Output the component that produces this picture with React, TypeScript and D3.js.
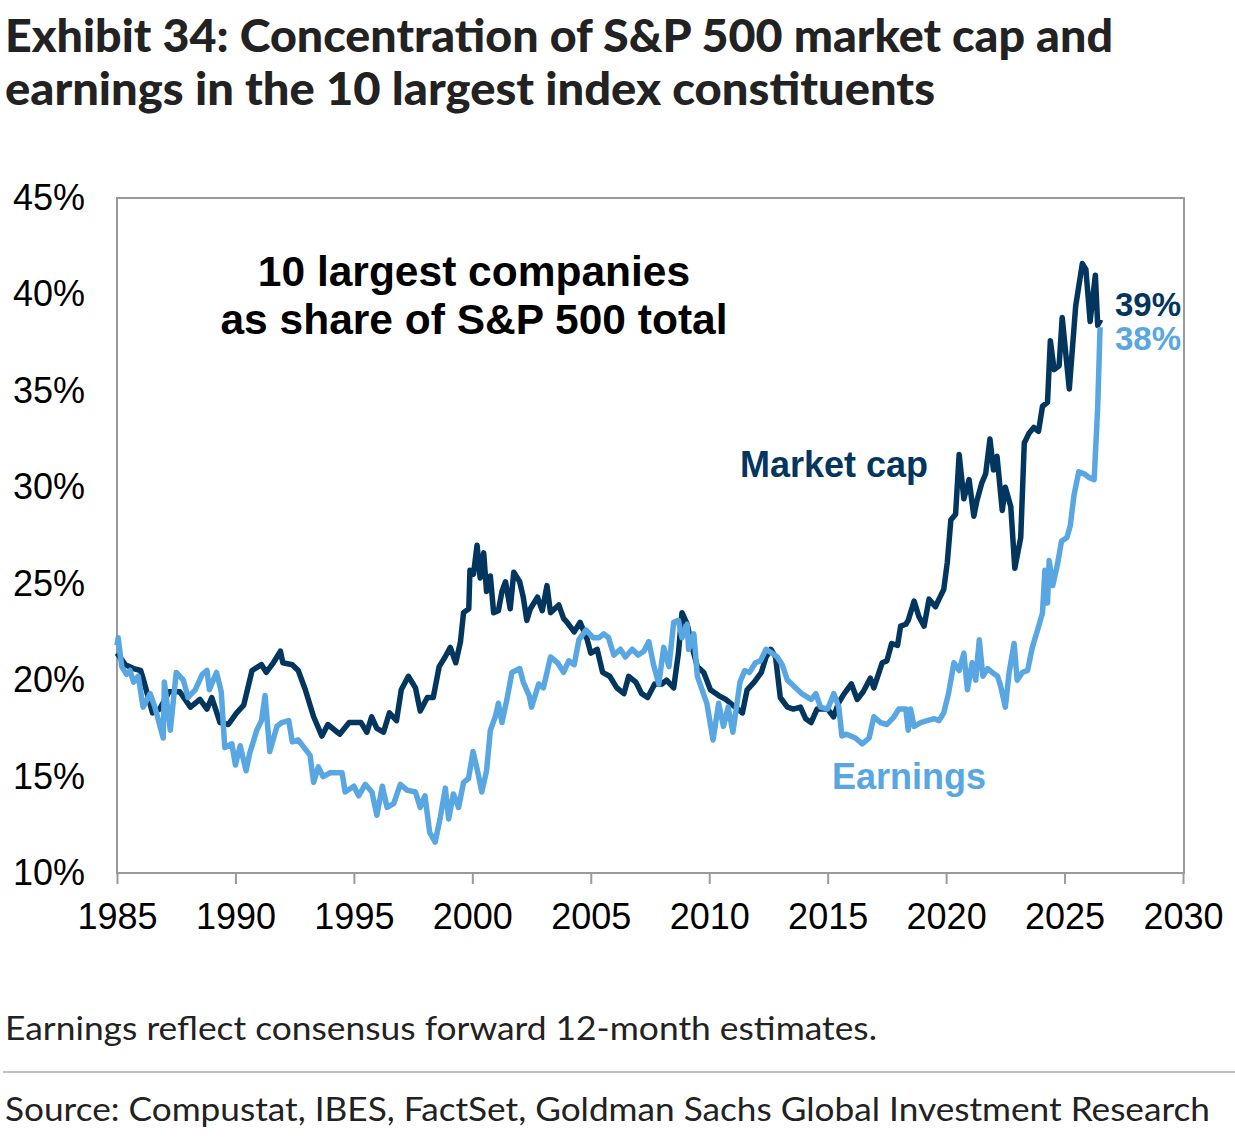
import React, { useEffect, useRef } from "react";
import * as d3 from "d3";

// [year, % of S&P 500]
const marketCap: [number, number][] = [
  [1985.0, 21.4], [1985.35, 20.8], [1985.7, 20.6], [1986.0, 20.5], [1986.1, 20.1],
  [1986.5, 18.3], [1986.8, 18.5], [1987.2, 19.4], [1987.65, 19.4], [1988.1, 18.6],
  [1988.5, 19.0], [1988.8, 18.5], [1989.0, 19.1], [1989.35, 17.8], [1989.7, 17.7],
  [1990.05, 18.3], [1990.35, 18.7], [1990.7, 20.5], [1991.1, 20.8], [1991.3, 20.4],
  [1991.6, 20.9], [1991.9, 21.5], [1992.0, 20.9], [1992.4, 20.8], [1992.65, 20.5],
  [1992.95, 19.5], [1993.3, 18.1], [1993.65, 17.1], [1993.9, 17.7], [1994.4, 17.2],
  [1994.8, 17.8], [1995.3, 17.8], [1995.55, 17.3], [1995.75, 18.1], [1995.97, 17.5],
  [1996.25, 17.3], [1996.5, 18.3], [1996.8, 17.9], [1997.0, 19.5], [1997.3, 20.2],
  [1997.6, 19.6], [1997.8, 18.4], [1998.1, 19.1], [1998.35, 19.1], [1998.6, 20.7],
  [1998.85, 21.2], [1999.07, 21.7], [1999.3, 20.9], [1999.5, 22.0], [1999.63, 23.5],
  [1999.85, 23.7], [1999.9, 25.7], [2000.05, 25.5], [2000.2, 27.0], [2000.33, 25.3],
  [2000.48, 26.6], [2000.6, 24.6], [2000.76, 25.4], [2000.9, 23.5], [2001.1, 23.6],
  [2001.25, 24.6], [2001.4, 25.1], [2001.6, 23.7], [2001.75, 25.6], [2002.0, 25.1],
  [2002.15, 24.3], [2002.3, 23.1], [2002.45, 23.7], [2002.75, 24.3], [2002.95, 23.6],
  [2003.15, 24.9], [2003.3, 23.5], [2003.65, 23.9], [2003.85, 23.2], [2004.0, 23.0],
  [2004.3, 22.5], [2004.55, 23.0], [2004.85, 22.1], [2005.0, 21.4], [2005.27, 21.6],
  [2005.5, 20.4], [2005.8, 20.2], [2006.1, 19.6], [2006.4, 19.3], [2006.6, 20.2],
  [2006.9, 19.9], [2007.15, 19.3], [2007.4, 19.1], [2007.7, 19.8], [2008.0, 19.8],
  [2008.2, 20.0], [2008.5, 19.6], [2008.7, 21.4], [2008.85, 23.5], [2009.07, 22.9],
  [2009.3, 21.6], [2009.5, 20.7], [2009.77, 20.4], [2010.05, 19.5], [2010.4, 19.2],
  [2010.7, 19.0], [2010.9, 18.8], [2011.4, 18.3], [2011.6, 19.5], [2011.9, 19.9],
  [2012.2, 20.4], [2012.4, 21.2], [2012.6, 21.6], [2012.8, 21.2], [2013.0, 19.1],
  [2013.3, 18.6], [2013.55, 18.5], [2013.85, 18.6], [2014.07, 18.0], [2014.3, 17.8],
  [2014.55, 18.5], [2015.0, 18.5], [2015.25, 18.1], [2015.45, 18.8], [2015.7, 19.3],
  [2016.0, 19.8], [2016.25, 19.0], [2016.5, 19.4], [2016.8, 20.1], [2016.95, 19.6],
  [2017.3, 20.9], [2017.5, 21.0], [2017.7, 21.9], [2017.95, 21.8], [2018.08, 22.8],
  [2018.3, 22.9], [2018.4, 23.1], [2018.65, 24.1], [2018.85, 23.3], [2019.07, 22.8],
  [2019.28, 24.2], [2019.55, 23.8], [2019.7, 24.2], [2019.9, 24.7], [2020.05, 26.1],
  [2020.2, 28.3], [2020.4, 28.6], [2020.55, 31.7], [2020.75, 29.4], [2020.97, 30.4],
  [2021.17, 28.5], [2021.3, 29.3], [2021.5, 30.2], [2021.67, 30.7], [2021.85, 32.5],
  [2022.0, 30.9], [2022.15, 31.6], [2022.37, 28.8], [2022.5, 30.0], [2022.73, 29.0],
  [2022.9, 25.8], [2023.15, 27.4], [2023.3, 32.3], [2023.5, 32.8], [2023.7, 33.1],
  [2023.9, 32.9], [2024.07, 34.2], [2024.28, 34.4], [2024.4, 37.6], [2024.56, 36.1],
  [2024.77, 36.3], [2024.9, 38.8], [2025.2, 35.1], [2025.47, 39.4], [2025.75, 41.6],
  [2025.9, 41.3], [2026.08, 38.6], [2026.3, 41.0], [2026.4, 38.4], [2026.53, 38.7],
];

const earnings: [number, number][] = [
  [1985.0, 21.8], [1985.05, 22.2], [1985.2, 20.7], [1985.4, 20.3], [1985.55, 20.5],
  [1985.7, 19.9], [1985.9, 20.2], [1986.1, 18.6], [1986.4, 19.3], [1986.6, 18.6],
  [1986.95, 17.0], [1987.0, 19.9], [1987.25, 17.4], [1987.5, 20.4], [1987.8, 20.0],
  [1988.0, 19.1], [1988.3, 19.5], [1988.6, 20.3], [1988.8, 20.5], [1988.9, 19.5],
  [1989.2, 20.4], [1989.4, 19.4], [1989.55, 16.5], [1989.85, 16.7], [1990.0, 15.6],
  [1990.2, 16.6], [1990.45, 15.3], [1990.6, 16.2], [1990.9, 17.4], [1991.1, 17.9],
  [1991.25, 19.2], [1991.45, 16.3], [1991.75, 17.6], [1991.95, 17.8], [1992.25, 17.9],
  [1992.4, 16.8], [1992.65, 16.9], [1992.9, 16.5], [1993.15, 16.1], [1993.3, 14.7],
  [1993.5, 15.5], [1993.7, 15.0], [1994.0, 15.2], [1994.5, 15.2], [1994.63, 14.2],
  [1995.0, 14.5], [1995.2, 14.0], [1995.48, 14.6], [1995.76, 14.2], [1995.97, 13.0],
  [1996.2, 14.5], [1996.4, 13.4], [1996.68, 13.6], [1996.96, 14.6], [1997.24, 14.3],
  [1997.6, 14.2], [1997.8, 13.4], [1998.0, 14.0], [1998.2, 12.1], [1998.43, 11.6],
  [1998.65, 12.9], [1998.86, 14.4], [1999.0, 12.8], [1999.2, 14.1], [1999.42, 13.4],
  [1999.63, 14.7], [1999.84, 14.9], [2000.03, 16.3], [2000.2, 15.4], [2000.4, 14.2],
  [2000.6, 15.3], [2000.76, 17.4], [2000.97, 18.1], [2001.1, 18.8], [2001.25, 17.8],
  [2001.46, 19.0], [2001.67, 20.4], [2002.0, 20.6], [2002.15, 19.9], [2002.4, 19.2],
  [2002.5, 18.6], [2002.8, 19.8], [2003.0, 19.6], [2003.3, 21.2], [2003.6, 20.9],
  [2003.85, 20.4], [2004.07, 21.0], [2004.3, 20.8], [2004.5, 22.1], [2004.8, 22.6],
  [2005.1, 22.2], [2005.35, 22.2], [2005.55, 22.4], [2005.75, 22.2], [2005.97, 21.3],
  [2006.25, 21.6], [2006.46, 21.2], [2006.75, 21.6], [2007.0, 21.3], [2007.24, 21.5],
  [2007.45, 22.0], [2007.65, 20.8], [2007.87, 19.8], [2008.08, 21.7], [2008.3, 20.7],
  [2008.5, 23.0], [2008.7, 23.1], [2008.85, 22.2], [2009.07, 22.9], [2009.13, 21.6],
  [2009.35, 22.4], [2009.5, 20.2], [2009.7, 19.5], [2009.9, 18.8], [2010.16, 16.9],
  [2010.4, 18.8], [2010.6, 17.6], [2010.8, 18.6], [2011.0, 17.3], [2011.3, 19.9],
  [2011.5, 20.5], [2011.7, 20.4], [2011.95, 20.9], [2012.16, 21.0], [2012.4, 21.6],
  [2012.65, 21.4], [2012.87, 21.2], [2013.08, 20.8], [2013.3, 20.0], [2013.57, 19.7],
  [2013.9, 19.3], [2014.3, 19.0], [2014.5, 19.3], [2014.7, 18.6], [2015.0, 18.5],
  [2015.26, 19.3], [2015.47, 18.6], [2015.6, 17.1], [2015.8, 17.2], [2016.17, 17.0],
  [2016.46, 16.7], [2016.75, 17.0], [2016.95, 18.1], [2017.23, 17.8], [2017.5, 17.7],
  [2017.8, 18.1], [2018.0, 18.5], [2018.3, 18.5], [2018.4, 17.4], [2018.5, 18.5],
  [2018.65, 17.6], [2018.93, 17.8], [2019.2, 17.9], [2019.5, 18.0], [2019.7, 17.9],
  [2019.9, 18.3], [2020.1, 19.3], [2020.33, 20.9], [2020.55, 20.5], [2020.75, 21.4],
  [2020.9, 19.5], [2021.1, 20.9], [2021.25, 20.0], [2021.4, 22.1], [2021.55, 20.2],
  [2021.75, 20.6], [2021.95, 20.4], [2022.17, 20.2], [2022.3, 19.7], [2022.5, 18.6],
  [2022.66, 20.4], [2022.87, 21.9], [2023.0, 20.0], [2023.22, 20.4], [2023.44, 20.5],
  [2023.64, 21.7], [2023.86, 22.6], [2024.07, 23.5], [2024.17, 25.7], [2024.28, 24.0],
  [2024.35, 26.2], [2024.5, 24.9], [2024.7, 26.0], [2024.87, 27.2], [2025.1, 27.4],
  [2025.24, 28.0], [2025.4, 29.6], [2025.6, 30.8], [2025.83, 30.7], [2026.04, 30.5],
  [2026.25, 30.4], [2026.4, 34.2], [2026.5, 38.3],
];

const xTicks = [1985, 1990, 1995, 2000, 2005, 2010, 2015, 2020, 2025, 2030];
const yTicks = [10, 15, 20, 25, 30, 35, 40, 45];

const titleLines = [
  "Exhibit 34: Concentration of S&P 500 market cap and",
  "earnings in the 10 largest index constituents",
];
const annotationLines = ["10 largest companies", "as share of S&P 500 total"];
const footnote = "Earnings reflect consensus forward 12-month estimates.";
const source =
  "Source: Compustat, IBES, FactSet, Goldman Sachs Global Investment Research";

const DARK = "#03365e";
const LIGHT = "#58a6e2";
const FRAME = "#9a9a9a";
const ARIAL = "'Liberation Sans', Arial, Helvetica, sans-serif";
const TITLE_FONT = "Lato, 'Noto Sans', sans-serif";

const App: React.FC = () => {
  const svgRef = useRef<SVGSVGElement>(null);

  useEffect(() => {
    if (!svgRef.current) return;
    const width = 1235;
    const height = 1145;
    const margin = { top: 198, right: 52, bottom: 272, left: 117 };

    const svg = d3.select(svgRef.current);
    svg.selectAll("*").remove();
    svg.attr("width", width).attr("height", height);

    const innerWidth = width - margin.left - margin.right;
    const innerHeight = height - margin.top - margin.bottom;

    const x = d3.scaleLinear().domain([1985, 2030]).range([0, innerWidth]);
    const y = d3.scaleLinear().domain([10, 45]).range([innerHeight, 0]);

    svg.append("rect").attr("width", width).attr("height", height).attr("fill", "white");

    // title
    titleLines.forEach((t, i) => {
      svg
        .append("text")
        .attr("x", 5)
        .attr("y", 52 + i * 53)
        .attr("textLength", i === 0 ? 1108 : 930)
        .attr("lengthAdjust", "spacingAndGlyphs")
        .style("font-family", TITLE_FONT)
        .style("font-weight", 900)
        .style("font-size", "45px")
        .attr("fill", "#222")
        .text(t);
    });

    const g = svg
      .append("g")
      .attr("transform", `translate(${margin.left},${margin.top})`);

    // x axis
    const xAxis = g
      .append("g")
      .attr("transform", `translate(0,${innerHeight})`)
      .call(
        d3
          .axisBottom(x)
          .tickValues(xTicks)
          .tickSize(11)
          .tickFormat(d3.format("d")),
      );
    xAxis.select(".domain").remove();
    xAxis.selectAll("line").attr("stroke", FRAME).attr("stroke-width", 2);
    xAxis
      .selectAll("text")
      .attr("y", 30)
      .attr("fill", "#000")
      .style("font-family", ARIAL)
      .style("font-size", "36px");

    // y axis
    const yAxis = g
      .append("g")
      .call(
        d3
          .axisLeft(y)
          .tickValues(yTicks)
          .tickSize(0)
          .tickPadding(32)
          .tickFormat((d) => `${d}%`),
      );
    yAxis.select(".domain").remove();
    yAxis
      .selectAll("text")
      .attr("fill", "#000")
      .style("font-family", ARIAL)
      .style("font-size", "36px");

    // frame
    g.append("rect")
      .attr("x", 0)
      .attr("y", 0)
      .attr("width", innerWidth + 1)
      .attr("height", innerHeight)
      .attr("fill", "none")
      .attr("stroke", FRAME)
      .attr("stroke-width", 2);

    const line = d3
      .line<[number, number]>()
      .x((d) => x(d[0]))
      .y((d) => y(d[1]));

    g.append("path")
      .datum(marketCap)
      .attr("d", line)
      .attr("fill", "none")
      .attr("stroke", DARK)
      .attr("stroke-width", 5.5)
      .attr("stroke-linejoin", "round");

    g.append("path")
      .datum(earnings)
      .attr("d", line)
      .attr("fill", "none")
      .attr("stroke", LIGHT)
      .attr("stroke-width", 5.5)
      .attr("stroke-linejoin", "round");

    // annotations
    annotationLines.forEach((t, i) => {
      svg
        .append("text")
        .attr("x", 474)
        .attr("y", 286 + i * 48)
        .attr("text-anchor", "middle")
        .style("font-family", ARIAL)
        .style("font-weight", "bold")
        .style("font-size", "42.5px")
        .attr("fill", "#000")
        .text(t);
    });

    svg
      .append("text")
      .attr("x", 740)
      .attr("y", 477)
      .style("font-family", ARIAL)
      .style("font-weight", "bold")
      .style("font-size", "36px")
      .attr("fill", DARK)
      .text("Market cap");

    svg
      .append("text")
      .attr("x", 832)
      .attr("y", 789)
      .style("font-family", ARIAL)
      .style("font-weight", "bold")
      .style("font-size", "36px")
      .attr("fill", LIGHT)
      .text("Earnings");

    const lastCap = marketCap[marketCap.length - 1][1];
    const lastEarn = earnings[earnings.length - 1][1];

    svg
      .append("text")
      .attr("x", 1115)
      .attr("y", 316)
      .style("font-family", ARIAL)
      .style("font-weight", "bold")
      .style("font-size", "33px")
      .attr("fill", DARK)
      .text(`${Math.round(lastCap)}%`);

    svg
      .append("text")
      .attr("x", 1115)
      .attr("y", 350)
      .style("font-family", ARIAL)
      .style("font-weight", "bold")
      .style("font-size", "33px")
      .attr("fill", LIGHT)
      .text(`${Math.round(lastEarn)}%`);

    // footnote, rule and source
    svg
      .append("text")
      .attr("x", 5)
      .attr("y", 1040)
      .attr("textLength", 872)
      .attr("lengthAdjust", "spacingAndGlyphs")
      .style("font-family", TITLE_FONT)
      .style("font-size", "33px")
      .attr("fill", "#222")
      .text(footnote);

    svg
      .append("line")
      .attr("x1", 3)
      .attr("x2", 1235)
      .attr("y1", 1072)
      .attr("y2", 1072)
      .attr("stroke", "#aaa")
      .attr("stroke-width", 1.5);

    svg
      .append("text")
      .attr("x", 5)
      .attr("y", 1121)
      .attr("textLength", 1205)
      .attr("lengthAdjust", "spacingAndGlyphs")
      .style("font-family", TITLE_FONT)
      .style("font-size", "33px")
      .attr("fill", "#222")
      .text(source);
  }, []);

  return (
    <svg
      ref={svgRef}
      style={{ position: "absolute", left: 0, top: 0, display: "block" }}
    ></svg>
  );
};

export default App;
